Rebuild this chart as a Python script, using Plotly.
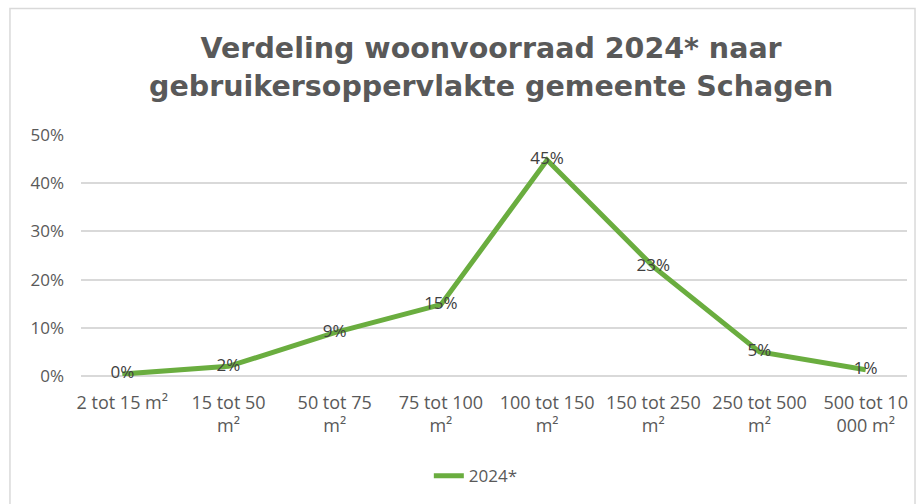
import plotly.graph_objects as go

categories = ["2 tot 15 m²", "15 tot 50<br>m²", "50 tot 75<br>m²", "75 tot 100<br>m²",
              "100 tot 150<br>m²", "150 tot 250<br>m²", "250 tot 500<br>m²", "500 tot 10<br>000 m²"]
values_2024 = [0.004, 0.02, 0.09, 0.148, 0.448, 0.227, 0.05, 0.013]
series_name = "2024*"
tick_vals = [0, 0.1, 0.2, 0.3, 0.4, 0.5]
tick_text = ["0%", "10%", "20%", "30%", "40%", "50%"]

grey = "#595959"
green = "#6aad3f"
tick_font = dict(family="Open Sans", size=17, color=grey)

fig = go.Figure()
fig.add_trace(go.Scatter(
    x=categories, y=values_2024, name=series_name, mode="lines+text",
    line=dict(color=green, width=5),
    text=[f"{round(v*100)}%" for v in values_2024],
    textposition="middle center",
    textfont=dict(family="Open Sans", size=17, color="#404040"),
    showlegend=True,
    cliponaxis=False,
))

fig.update_layout(
    width=918, height=504,
    paper_bgcolor="white", plot_bgcolor="white",
    margin=dict(l=81, r=11, t=135, b=127),
    title=dict(
        text="<b>Verdeling woonvoorraad 2024* naar<br>gebruikersoppervlakte gemeente Schagen</b>",
        x=0.535, xanchor="center", y=0.884, yanchor="middle",
        font=dict(family="DejaVu Sans", size=28.5, color=grey),
    ),
    xaxis=dict(showgrid=False, showline=False, ticks="", tickfont=dict(family="Open Sans", size=18, color=grey),
               tickangle=0, ticklabelstandoff=14),
    yaxis=dict(range=[0, 0.5], tickvals=tick_vals, ticktext=tick_text, showgrid=True,
               gridcolor="#d9d9d9", gridwidth=1.5, zeroline=True, zerolinecolor="#d9d9d9",
               zerolinewidth=1.5, ticks="", tickfont=tick_font, ticklabelstandoff=16),
    legend=dict(orientation="h", x=0.478, xanchor="center", y=-0.41, yanchor="middle",
                font=tick_font),
    shapes=[dict(type="rect", xref="paper", yref="paper", x0=-0.086, x1=1.0097, y0=-0.6, y1=1.525,
                 line=dict(color="#d9d9d9", width=1.5), layer="below"),
            ],
)

fig.write_html("out.html", config={"displayModeBar": False},
               post_script="document.body.style.margin='0';")
